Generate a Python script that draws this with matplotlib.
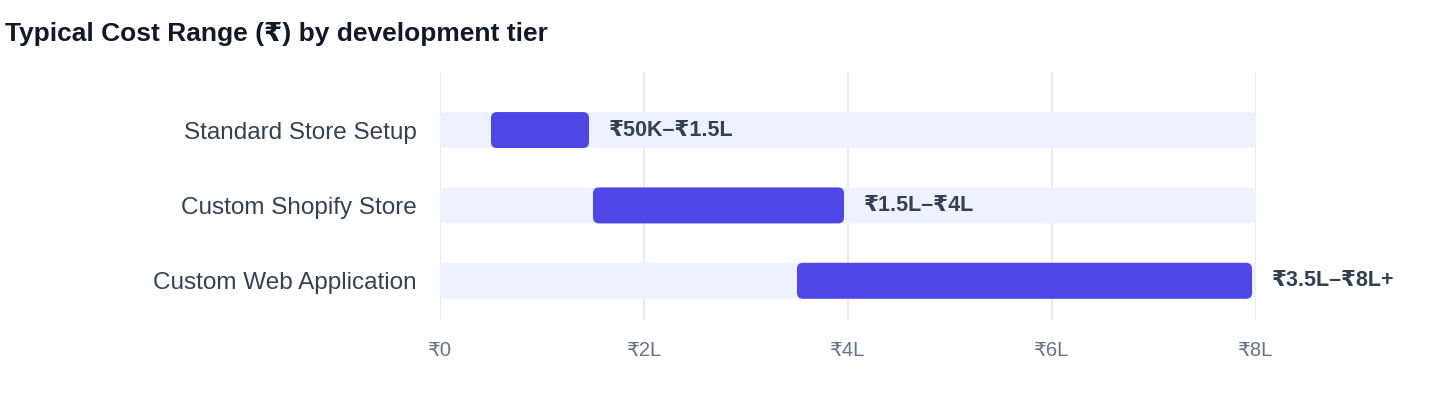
import matplotlib
matplotlib.use("Agg")
import matplotlib.pyplot as plt
from matplotlib.patches import FancyBboxPatch

plt.rcParams['font.family'] = ['Liberation Sans', 'DejaVu Sans']

categories = ["Standard Store Setup", "Custom Shopify Store", "Custom Web Application"]
range_start = [0.5, 1.5, 3.5]   # in lakh
range_end = [1.5, 4.0, 8.0]
range_labels = ["₹50K–₹1.5L", "₹1.5L–₹4L", "₹3.5L–₹8L+"]
track_max = 8
x_ticks = [0, 2, 4, 6, 8]
x_tick_labels = ["₹0", "₹2L", "₹4L", "₹6L", "₹8L"]
title = "Typical Cost Range (₹) by development tier"

W, H, DPI = 1440, 408, 100
fig = plt.figure(figsize=(W / DPI, H / DPI), dpi=DPI)
left_px, right_px, top_px, bot_px = 440, 1256, 72, 320
ax = fig.add_axes([left_px / W, 1 - bot_px / H, (right_px - left_px) / W, (bot_px - top_px) / H])

ax.set_xlim(0, 8)
ax.set_ylim(2.52, -0.77)

px_per_x = (right_px - left_px) / 8
px_per_y = (bot_px - top_px) / (2.52 + 0.77)
aspect = px_per_x / px_per_y
bar_h = 36 / px_per_y
rad_x = 6 / px_per_x
inset = 4 / px_per_x

track_c = "#eef2ff"
bar_c = "#4f46e5"
text_c = "#334155"

for x in x_ticks:
    ax.axvline(x, color="#e2e8f0", lw=1.2, zorder=0)

for i, cat in enumerate(categories):
    tr = FancyBboxPatch((0, i - bar_h / 2), track_max, bar_h,
                        boxstyle=f"round,pad=0,rounding_size={rad_x}",
                        mutation_aspect=aspect, fc=track_c, ec="none", zorder=1)
    ax.add_patch(tr)
    s, e = range_start[i], range_end[i] - inset
    b = FancyBboxPatch((s, i - bar_h / 2), e - s, bar_h,
                       boxstyle=f"round,pad=0,rounding_size={rad_x}",
                       mutation_aspect=aspect, fc=bar_c, ec="none", zorder=2)
    ax.add_patch(b)
    ax.text(range_end[i] + 16 / px_per_x, i, range_labels[i], va="center", ha="left",
            fontsize=15.5, fontweight="bold", color=text_c, zorder=3)

ax.set_yticks(range(len(categories)))
ax.set_yticklabels(categories, fontsize=17.5, color=text_c)
ax.set_xticks(x_ticks)
ax.set_xticklabels(x_tick_labels, fontsize=14.5, color="#64748b")
ax.tick_params(axis="y", length=0, pad=17)
ax.tick_params(axis="x", length=0, pad=15)
for sp in ax.spines.values():
    sp.set_visible(False)
ax.set_facecolor("white")

fig.text(5 / W, 1 - 41 / H, title, fontsize=19, fontweight="bold", color="#111827",
         ha="left", va="baseline")

fig.savefig("out.png", dpi=DPI, facecolor="white")
